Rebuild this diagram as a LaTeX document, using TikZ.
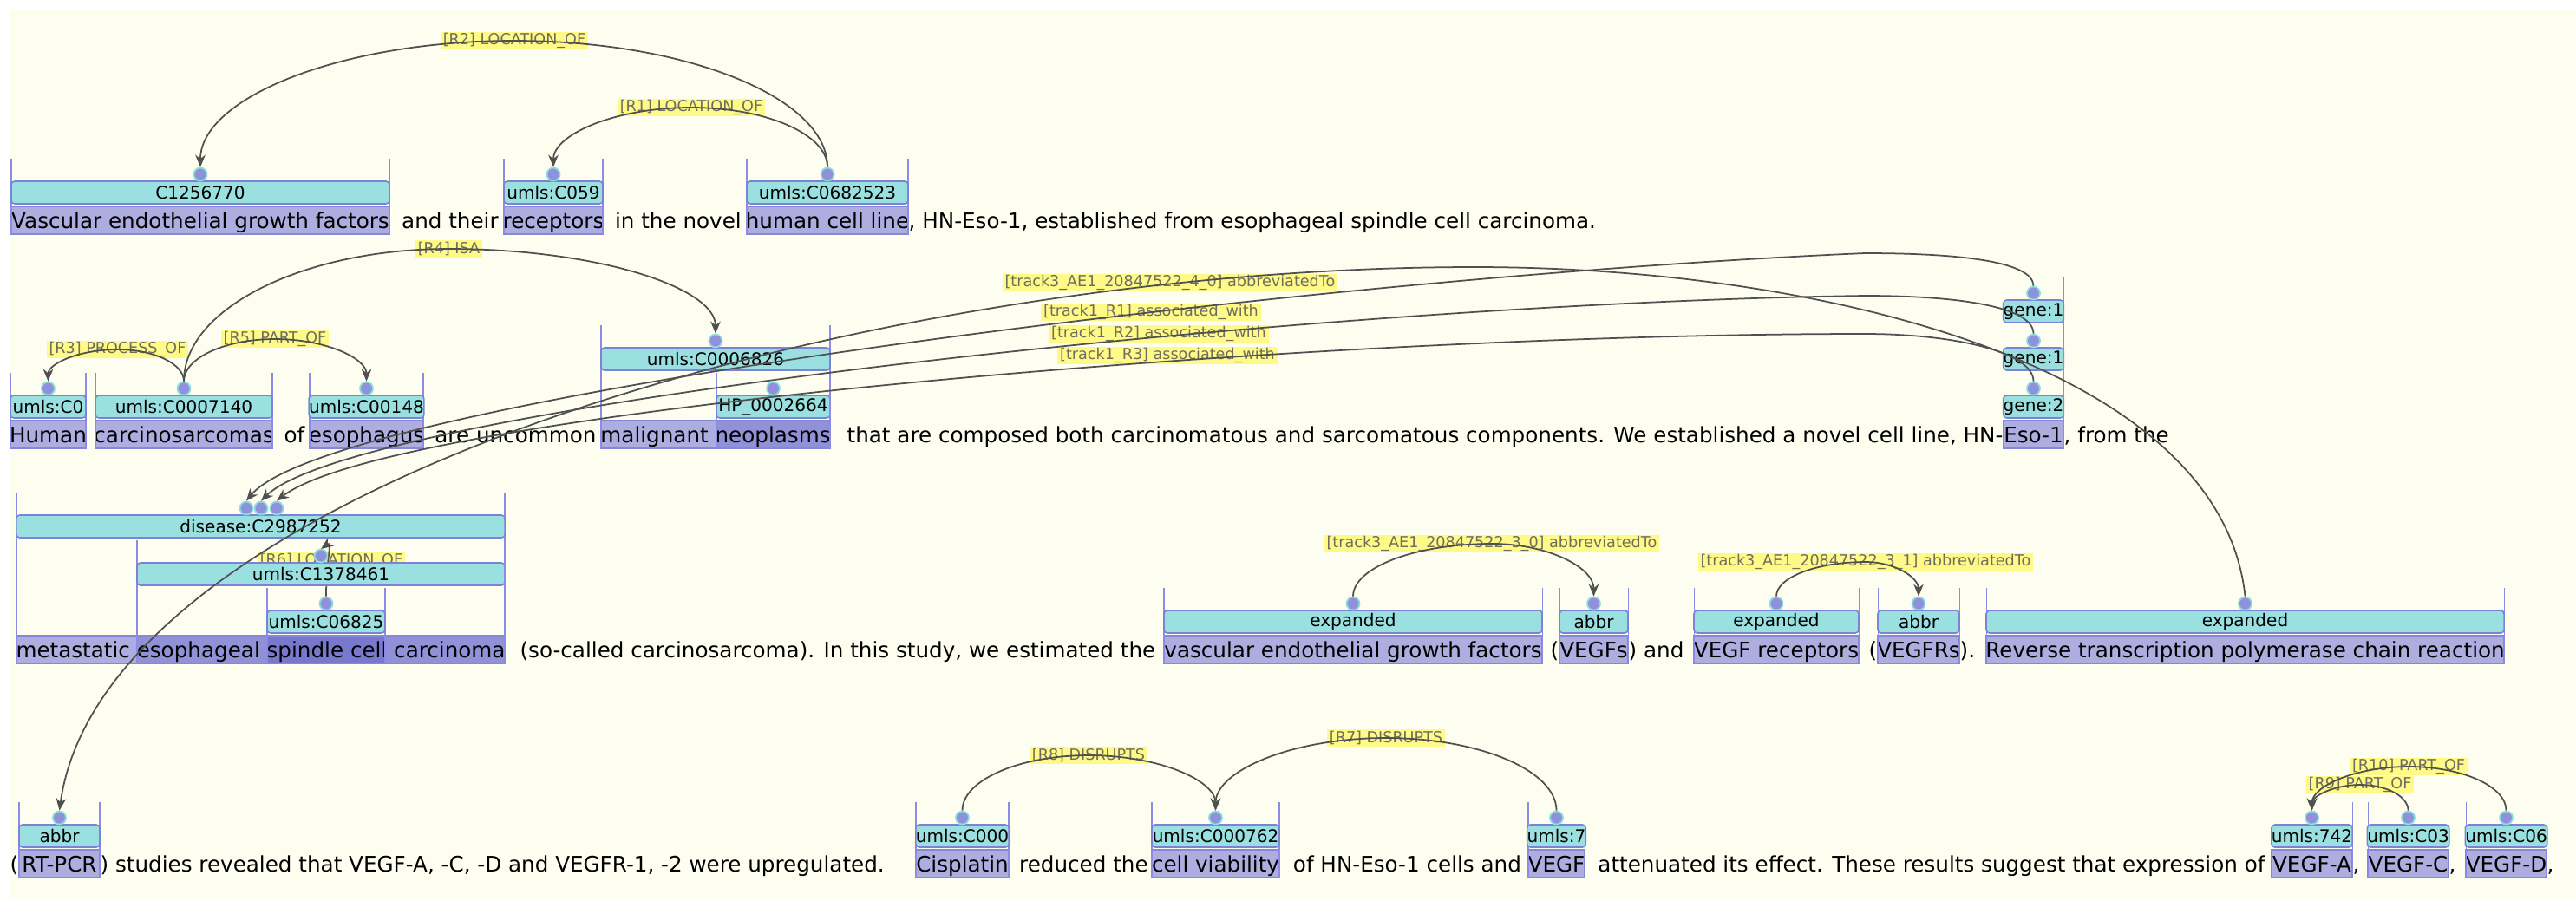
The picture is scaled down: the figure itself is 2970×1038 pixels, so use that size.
\documentclass[tikz,border=0pt]{standalone}
\usepackage{fontspec}
\setmainfont{DejaVu Sans}
\usepackage{tikz}
\usetikzlibrary{arrows.meta,calc}

\definecolor{bgcol}{RGB}{254,254,240}
\definecolor{hlcol}{RGB}{173,173,224}
\definecolor{hlcoltwo}{RGB}{145,145,216}
\definecolor{hlcolthree}{RGB}{120,120,206}
\definecolor{hledge}{RGB}{135,135,215}
\definecolor{entcol}{RGB}{155,224,224}
\definecolor{entedge}{RGB}{125,130,215}
\definecolor{dotcol}{RGB}{143,145,218}
\definecolor{dotedge}{RGB}{140,222,222}
\definecolor{colline}{RGB}{140,140,230}
\definecolor{relcol}{RGB}{255,250,135}
\definecolor{reltext}{RGB}{110,110,95}
\definecolor{arccol}{RGB}{80,80,80}

\tikzset{
  word/.style={inner sep=0pt, anchor=base, font=\fontsize{7pt}{8pt}\selectfont},
  hl/.style={draw=hledge, line width=0.35pt},
  ent/.style={draw=entedge, fill=entcol, rounded corners=1.1pt, line width=0.45pt, inner sep=0pt,
    minimum height=0.26cm, font=\fontsize{5.7pt}{6pt}\selectfont},
  dot/.style={circle, draw=dotedge, fill=dotcol, line width=0.5pt, inner sep=0pt, minimum size=0.15cm},
  col/.style={colline, line width=0.3pt},
  rel/.style={fill=relcol, text=reltext, inner xsep=0.03cm, inner ysep=0pt, minimum height=0.2cm,
    font=\fontsize{5pt}{6pt}\selectfont},
  arc/.style={arccol, line width=0.5pt, -{Stealth[length=4pt,width=3.3pt,inset=1.3pt]}},
  rise/.style={to path={.. controls ($(\tikztostart)!0.55!(\tikztostart|-\tikztotarget)$)
    and ($(\tikztotarget)!0.55!(\tikztostart|-\tikztotarget)$) .. (\tikztotarget)}},
  fall/.style={to path={.. controls ($(\tikztostart)!0.55!(\tikztotarget|-\tikztostart)$)
    and ($(\tikztotarget)!0.55!(\tikztotarget|-\tikztostart)$) .. (\tikztotarget)}}
}

\begin{document}
\begin{tikzpicture}[x=0.01cm, y=0.01cm]

\useasboundingbox (0,0) rectangle (2970,-1038);
\fill[white] (0,0) rectangle (2970,-1038);
\fill[bgcol] (12,-12) rectangle (2970,-1038);

% span highlights
\foreach \xa/\xb/\ya/\hc in {13/449/238/hlcol, 581/695/238/hlcol, 861/1047/238/hlcol,
    12/99/485/hlcol, 110/314/485/hlcol, 357/488/485/hlcol, 693/826/485/hlcol, 826/957/485/hlcoltwo,
    2310/2379/485/hlcol,
    19/158/733/hlcol, 158/308/733/hlcoltwo, 308/444/733/hlcolthree, 444/582/733/hlcoltwo,
    1342/1778/733/hlcol, 1798/1877/733/hlcol, 1953/2143/733/hlcol, 2165/2259/733/hlcol, 2290/2887/733/hlcol,
    22/115/980/hlcol, 1056/1163/980/hlcol, 1328/1475/980/hlcol, 1762/1827/980/hlcol,
    2619/2712/980/hlcol, 2730/2823/980/hlcol, 2843/2936/980/hlcol}
    \filldraw[hl, fill=\hc] (\xa,-\ya) rectangle (\xb,{-\ya-32});

% sentence text
\node[word] (wvf) at (231,-263) {Vascular endothelial growth factors};
\node[word] (w1) at (515,-263) {\ and their\ };
\node[word] (wrc) at (638,-263) {receptors};
\node[word] (w2) at (778,-263) {\ in the novel\ };
\node[word] (whc) at (954,-263) {human cell line};
\node[word, anchor=base west] (w3) at (1047,-263) {, HN-Eso-1, established from esophageal spindle cell carcinoma.};

\node[word] (whu) at (55.5,-510) {Human};
\node[word] (wcs) at (212,-510) {carcinosarcomas};
\node[word] (w4) at (335.5,-510) {\ of\ };
\node[word] (wes) at (422.5,-510) {esophagus};
\node[word] (w5) at (590.5,-510) {\ are uncommon\ };
\node[word] (wmn) at (825,-510) {malignant neoplasms};
\node[word, anchor=base east] (w6) at (2310,-510) {\ that are composed both carcinomatous and sarcomatous components. We established a novel cell line, HN-};
\node[word] (weso) at (2344.5,-510) {Eso-1};
\node[word, anchor=base west] (w7) at (2379,-510) {, from the};

\node[word] (wdc) at (300.5,-758) {metastatic esophageal spindle cell carcinoma};
\node[word] (w8) at (962,-758) {\ (so-called carcinosarcoma). In this study, we estimated the\ };
\node[word] (wve) at (1560,-758) {vascular endothelial growth factors};
\node[word, anchor=base east] (w9) at (1798,-758) {\ (};
\node[word] (wvs) at (1837.5,-758) {VEGFs};
\node[word, anchor=base west] (w10) at (1877,-758) {)\ and\ };
\node[word] (wre) at (2048,-758) {VEGF receptors};
\node[word, anchor=base east] (w11) at (2165,-758) {\ (};
\node[word] (wra) at (2212,-758) {VEGFRs};
\node[word, anchor=base west] (w12) at (2259,-758) {).\ };
\node[word] (wrt) at (2588.5,-758) {Reverse transcription polymerase chain reaction};

\node[word, anchor=base east] (w13) at (22,-1005) {(};
\node[word] (wpc) at (68.5,-1005) {RT-PCR};
\node[word, anchor=base west] (w14) at (115,-1005) {)\ studies revealed that VEGF-A, -C, -D and VEGFR-1, -2 were upregulated.\ };
\node[word] (wci) at (1109.5,-1005) {Cisplatin};
\node[word] (w15) at (1245.5,-1005) {\ reduced the\ };
\node[word] (wcv) at (1401.5,-1005) {cell viability};
\node[word] (w16) at (1618.5,-1005) {\ of HN-Eso-1 cells and\ };
\node[word] (wvg) at (1794.5,-1005) {VEGF};
\node[word] (w17) at (2223,-1005) {\ attenuated its effect. These results suggest that expression of\ };
\node[word] (wvA) at (2665.5,-1005) {VEGF-A};
\node[word, anchor=base west] (w18) at (2712,-1005) {,\ };
\node[word] (wvC) at (2776.5,-1005) {VEGF-C};
\node[word, anchor=base west] (w19) at (2823,-1005) {,\ };
\node[word] (wvD) at (2889.5,-1005) {VEGF-D};
\node[word, anchor=base west] (w20) at (2936,-1005) {,};

% relation labels
\node[rel] (lR2) at (593,-47) {[R2] LOCATION\_OF};
\node[rel] (lR1) at (797,-124) {[R1] LOCATION\_OF};
\node[rel] (lR4) at (517.5,-287) {[R4] ISA};
\node[rel] (lR5) at (317,-391) {[R5] PART\_OF};
\node[rel] (lR3) at (135.5,-403) {[R3] PROCESS\_OF};
\node[rel] (lA40) at (1349,-326) {[track3\_AE1\_20847522\_4\_0] abbreviatedTo};
\node[rel] (lT1) at (1327,-360) {[track1\_R1] associated\_with};
\node[rel] (lT2) at (1336,-385) {[track1\_R2] associated\_with};
\node[rel] (lT3) at (1346,-410) {[track1\_R3] associated\_with};
\node[rel] (lR6) at (382,-647) {[R6] LOCATION\_OF};
\node[rel] (lA30) at (1720,-627) {[track3\_AE1\_20847522\_3\_0] abbreviatedTo};
\node[rel] (lA31) at (2151,-648) {[track3\_AE1\_20847522\_3\_1] abbreviatedTo};
\node[rel] (lR7) at (1598,-851) {[R7] DISRUPTS};
\node[rel] (lR8) at (1255,-871) {[R8] DISRUPTS};
\node[rel] (lR10) at (2777,-884) {[R10] PART\_OF};
\node[rel] (lR9) at (2721,-905) {[R9] PART\_OF};

% entity labels, first level
\foreach \n/\xa/\xb/\yc/\yb/\lab in {vf/13/449/-222/-270/C1256770, rc/581/695/-222/-270/umls:C059,
    hc/861/1047/-222/-270/umls:C0682523,
    hu/12/99/-469/-517/umls:C0, cs/110/314/-469/-517/umls:C0007140, es/357/488/-469/-517/umls:C00148,
    hp/826/957/-469/-517/HP\_0002664, gb/2310/2379/-469/-517/gene:2,
    sc/308/444/-717/-765/umls:C06825, ve/1342/1778/-717/-765/expanded, vs/1798/1877/-717/-765/abbr,
    re/1953/2143/-717/-765/expanded, ra/2165/2259/-717/-765/abbr, rt/2290/2887/-717/-765/expanded,
    pc/22/115/-964/-1012/abbr, ci/1056/1163/-964/-1012/umls:C000, cv/1328/1475/-964/-1012/umls:C000762,
    vg/1762/1827/-964/-1012/umls:7, vA/2619/2712/-964/-1012/umls:742, vC/2730/2823/-964/-1012/umls:C03,
    vD/2843/2936/-964/-1012/umls:C06}{
  \draw[col] (\xa,{\yc+39}) -- (\xa,\yb) (\xb,{\yc+39}) -- (\xb,\yb);
  \node[ent, minimum width={(\xb-\xa)*0.01cm}] (e\n) at ({(\xa+\xb)/2},\yc) {\lab};
  \node[dot] (c\n) at ({(\xa+\xb)/2},{\yc+21}) {};
}

% R6 runs under the umls:C1378461 box
\coordinate (ectop) at (370,-633);
\draw[arc] (csc.north) .. controls +(0,45) and +(14,10) .. (ectop);

% entity labels, upper levels
\foreach \n/\xa/\xb/\yc/\yb/\lab in {mn/693/957/-414/-517/umls:C0006826, gm/2310/2379/-414/-517/gene:1,
    ec/158/582/-662/-765/umls:C1378461, gt/2310/2379/-359/-517/gene:1}{
  \draw[col] (\xa,{\yc+39}) -- (\xa,\yb) (\xb,{\yc+39}) -- (\xb,\yb);
  \node[ent, minimum width={(\xb-\xa)*0.01cm}] (e\n) at ({(\xa+\xb)/2},\yc) {\lab};
  \node[dot] (c\n) at ({(\xa+\xb)/2},{\yc+21}) {};
}

\draw[col] (19,-568) -- (19,-765) (582,-568) -- (582,-765);
\node[ent, minimum width=5.63cm] (edc) at (300.5,-607) {disease:C2987252};
\foreach \i/\x in {1/284, 2/301, 3/319}
  \node[dot] (cD\i) at (\x,-586) {};

% relations
\draw[arc] (chc.north) to[rise] (lR2.center) to[fall] (cvf.north);
\draw[arc] (chc.north) to[rise] (lR1.center) to[fall] (crc.north);
\draw[arc] (ccs.north) to[rise] (lR3.center) to[fall] (chu.north);
\draw[arc] (ccs.north) to[rise] (lR5.center) to[fall] (ces.north);
\draw[arc] (ccs.north) to[rise] (lR4.center) to[fall] (cmn.north);
\draw[arc] (cve.north) to[rise] (lA30.center) to[fall] (cvs.north);
\draw[arc] (cre.north) to[rise] (lA31.center) to[fall] (cra.north);
\draw[arc] (cci.north) to[rise] (lR8.center) to[fall] (ccv.north);
\draw[arc] (cvg.north) to[rise] (lR7.center) to[fall] (ccv.north);
\draw[arc] (cvD.north) to[rise] (lR10.center) to[fall] (cvA.north);
\draw[arc] (cvC.north) to[rise] (lR9.center) to[fall] (cvA.north);

\coordinate (pkA) at (1700,-308);
\coordinate (pk1) at (2150,-292);
\coordinate (pk2) at (2150,-341);
\coordinate (pk3) at (2150,-385);
\draw[arc] (crt.north) .. controls (2560,-420) and (2100,-308) .. (pkA)
  .. controls (1000,-308) and (120,-560) .. (cpc.north);
\draw[arc] (cgt.north) .. controls (2344,-300) and (2250,-292) .. (pk1)
  .. controls (1500,-320) and (380,-460) .. (cD1.north);
\draw[arc] (cgm.north) .. controls (2344,-352) and (2250,-341) .. (pk2)
  .. controls (1500,-350) and (410,-470) .. (cD2.north);
\draw[arc] (cgb.north) .. controls (2344,-405) and (2250,-385) .. (pk3)
  .. controls (1500,-385) and (450,-475) .. (cD3.north);

\end{tikzpicture}
\end{document}
